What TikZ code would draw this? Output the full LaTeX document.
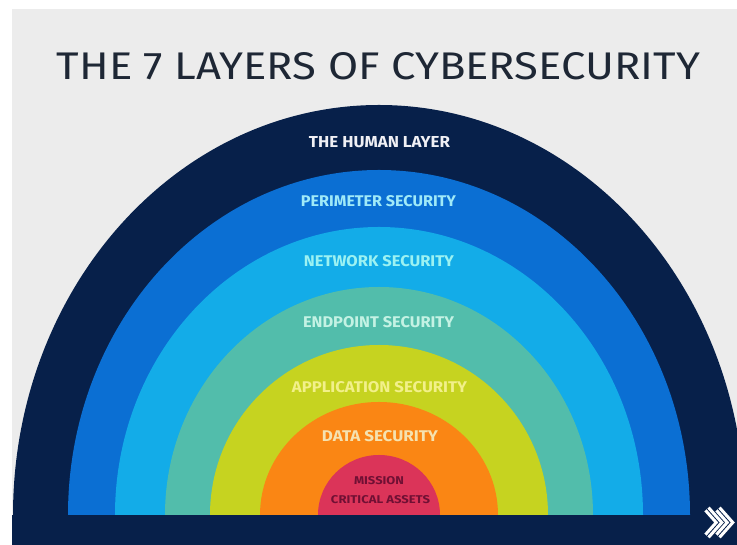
\documentclass[tikz,border=0pt]{standalone}
\usepackage{fontspec}
\usepackage{graphicx}
\setmainfont{Fira Sans}
\newfontfamily\titlefont{Fira Sans}
\definecolor{bggray}{HTML}{ECECEC}
\definecolor{navy}{HTML}{07204A}
\definecolor{perblue}{HTML}{0B6FD3}
\definecolor{netblue}{HTML}{13ACE8}
\definecolor{endteal}{HTML}{52BDAB}
\definecolor{appyel}{HTML}{C6D320}
\definecolor{dataor}{HTML}{FA8614}
\definecolor{misred}{HTML}{DB3459}
\definecolor{titletx}{HTML}{1E2735}
\definecolor{humantx}{HTML}{F0F0F5}
\definecolor{pertx}{HTML}{A0EAF8}
\definecolor{nettx}{HTML}{9CF2F2}
\definecolor{endtx}{HTML}{C4F2E4}
\definecolor{apptx}{HTML}{F2F08A}
\definecolor{datatx}{HTML}{F5E2B0}
\definecolor{mistx}{HTML}{701034}
\newcommand{\fitto}[3]{\resizebox{#1pt}{#2pt}{#3}}
\begin{document}
\begin{tikzpicture}[x=1pt,y=1pt,
  lab/.style={inner sep=0pt, font=\bfseries},
  layer/.style={draw=none},
  chev/.style={draw=white, line width=3.2pt, line join=miter, double=navy, double distance=0.8pt}]
\useasboundingbox (0,0) rectangle (737,545);
\clip (0,0) rectangle (737,545);
\fill[bggray] (0,0) rectangle (737,545);
\fill[white] (0,0) rectangle (12,545);
\fill[white] (0,536) rectangle (737,545);
% layers
\fill[navy]    (379,30) ++(-366,0) arc[start angle=180,end angle=0,x radius=366,y radius=410] -- cycle;
\fill[perblue] (379,30) ++(-311,0) arc[start angle=180,end angle=0,x radius=311,y radius=345] -- cycle;
\fill[netblue] (379,30) ++(-264,0) arc[start angle=180,end angle=0,x radius=264,y radius=288] -- cycle;
\fill[endteal] (379,30) ++(-214,0) arc[start angle=180,end angle=0,x radius=214,y radius=228] -- cycle;
\fill[appyel]  (379,30) ++(-169,0) arc[start angle=180,end angle=0,x radius=169,y radius=170] -- cycle;
\fill[dataor]  (379,30) ++(-119,0) arc[start angle=180,end angle=0,x radius=119,y radius=113] -- cycle;
\fill[misred]  (379,30) ++(-61,0) arc[start angle=180,end angle=0,x radius=61,y radius=60] -- cycle;
% bottom band
\fill[navy] (12,0) rectangle (737,30);
% title
\node[inner sep=0pt, text=titletx] (title) at (378.5,479) {\titlefont\fitto{643}{27}{THE 7 LAYERS OF CYBERSECURITY}};
% labels
\node[lab, text=humantx] (human) at (379.5,403) {\fitto{141}{11}{THE HUMAN LAYER}};
\node[lab, text=pertx] (perim) at (378.5,343.5) {\fitto{155}{11}{PERIMETER SECURITY}};
\node[lab, text=nettx] (net) at (379,283.5) {\fitto{150}{11}{NETWORK SECURITY}};
\node[lab, text=endtx] (endp) at (378.5,222.5) {\fitto{151}{11}{ENDPOINT SECURITY}};
\node[lab, text=apptx] (app) at (379.5,157.5) {\fitto{175}{11}{APPLICATION SECURITY}};
\node[lab, text=datatx] (data) at (380,109) {\fitto{116}{11}{DATA SECURITY}};
\node[lab, text=mistx] (mis1) at (379,64.5) {\fitto{50}{8}{MISSION}};
\node[lab, text=mistx] (mis2) at (380.5,45.5) {\fitto{99}{8}{CRITICAL ASSETS}};
% chevrons
\draw[chev] (707,36) -- (719,22.5) -- (707,9);
\draw[chev] (718,36) -- (730,22.5) -- (718,9);
\end{tikzpicture}
\end{document}
